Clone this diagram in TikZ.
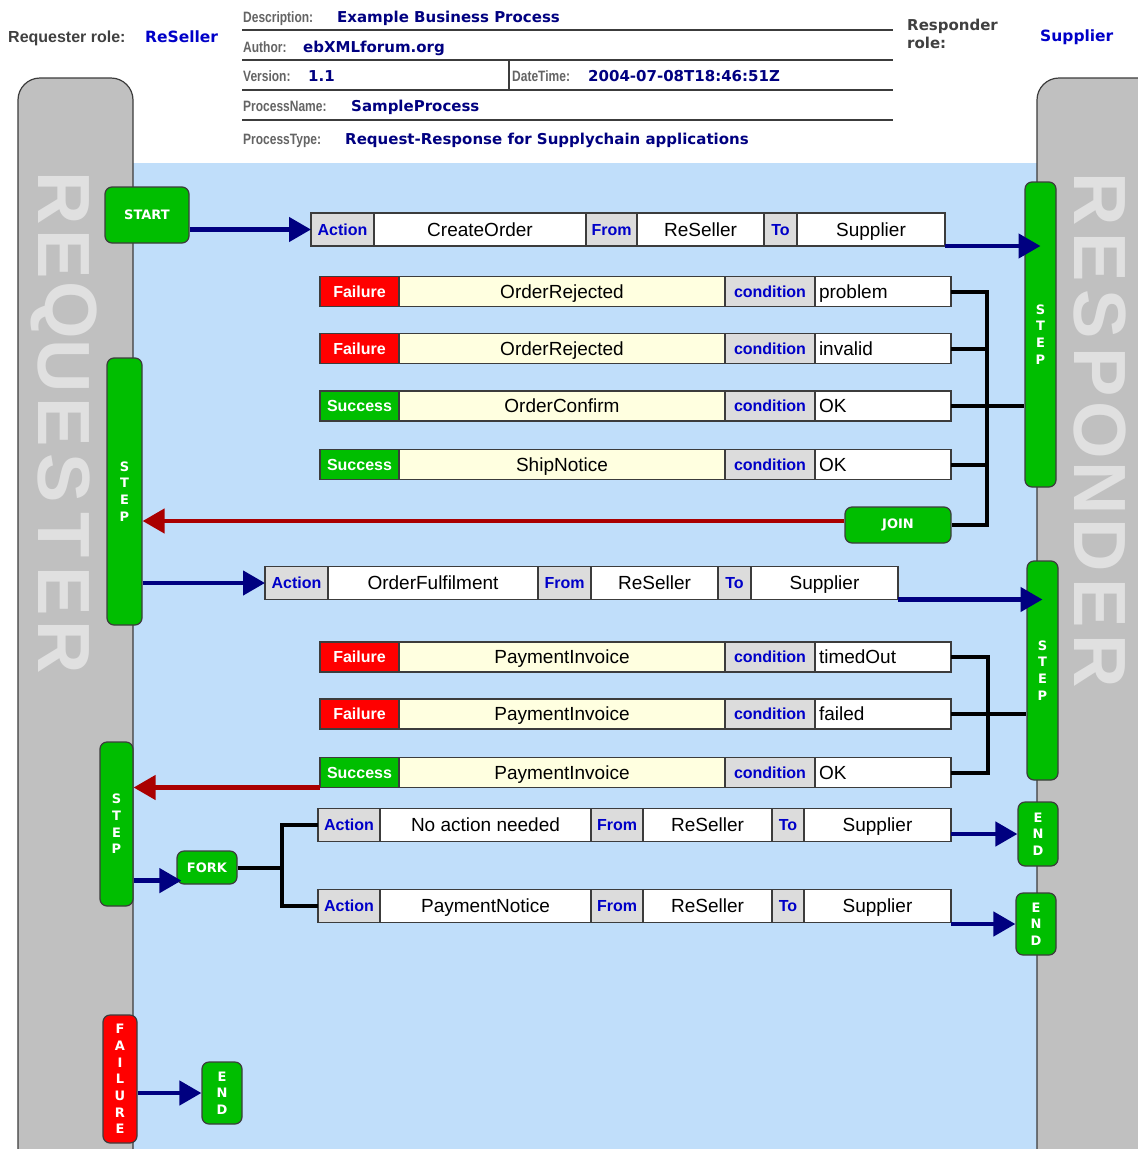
\documentclass[tikz,border=0pt]{standalone}
\usepackage{fontspec}
\setmainfont{Liberation Sans}
\newfontfamily\verdana{DejaVu Sans}
\newfontfamily\narrowface[FakeStretch=0.8]{Liberation Sans}
\usepackage{tikz}
\usetikzlibrary{arrows.meta,calc}
\usepackage{xcolor}
\definecolor{lanegray}{RGB}{192,192,192}
\definecolor{laneletter}{RGB}{224,224,224}
\definecolor{poolblue}{RGB}{192,222,250}
\definecolor{taggreen}{RGB}{0,190,0}
\definecolor{flownavy}{RGB}{0,0,128}
\definecolor{backred}{RGB}{170,0,0}
\definecolor{cellgray}{RGB}{220,220,220}
\definecolor{msgyellow}{RGB}{255,255,224}
\definecolor{keyblue}{RGB}{0,0,200}
\definecolor{edgegray}{RGB}{60,60,60}
\definecolor{hdrgray}{RGB}{100,100,100}

\begin{document}
\begin{tikzpicture}[x=1pt, y=-1pt,
    lane/.style={fill=lanegray, draw=edgegray, line width=1.2pt, rounded corners=22pt},
    lanetxt/.style={text=laneletter, font=\bfseries\fontsize{74}{74}\selectfont, rotate=-90, inner sep=0},
    cell/.style={draw=edgegray, line width=1.2pt, inner sep=0, outer sep=0, anchor=west, minimum height=33pt},
    key/.style={cell, fill=cellgray, text=keyblue, font=\fontsize{16}{16}\selectfont\bfseries, text height=15.5pt, text depth=4pt},
    val/.style={cell, fill=white, font=\fontsize{19}{19}\selectfont, text height=17.6pt, text depth=4pt},
    msg/.style={val, fill=msgyellow},
    condval/.style={val, inner xsep=4pt, text width=128pt, align=left},
    fail/.style={key, fill=red, text=white},
    succ/.style={key, fill=taggreen, text=white},
    tag/.style={draw=edgegray, line width=1.2pt, fill=taggreen, rounded corners=7pt, text=white, inner sep=0, align=center, font=\verdana\bfseries\fontsize{13}{16.7}\selectfont},
    flow/.style={-{Triangle[length=22pt,width=24pt]}, line width=4.5pt, flownavy},
    back/.style={-{Triangle[length=22pt,width=24pt]}, line width=4.5pt, backred},
    wire/.style={line width=4pt, black},
    hline/.style={line width=1.5pt, edgegray},
    hlab/.style={anchor=base west, inner sep=0, text=hdrgray, font=\narrowface\bfseries\fontsize{15}{15}\selectfont},
    hval/.style={anchor=base west, inner sep=0, text=flownavy, font=\verdana\bfseries\fontsize{15}{15}\selectfont},
    role/.style={anchor=base west, inner sep=0, text=keyblue, font=\verdana\bfseries\fontsize{15.5}{15.5}\selectfont}]
    \useasboundingbox (0,0) rectangle (1138,1149);
    \clip (0,0) rectangle (1138,1149);
    \fill[white] (0,0) rectangle (1138,1149);

    % Header
    \node[anchor=base west, inner sep=0, text=black!75, font=\bfseries\fontsize{16}{16}\selectfont] (reqlab) at (8,42) {Requester role:};
    \node[role] (reqrole) at (145,42) {ReSeller};
    \node[anchor=north west, inner sep=0, align=left, text=black!75, font=\verdana\bfseries\fontsize{15}{18}\selectfont] (reslab) at (907,19) {Responder\\role:};
    \node[role] (resrole) at (1040,41) {Supplier};
    \draw[hline] (242,30) -- (893,30);
    \draw[hline] (242,60) -- (893,60);
    \draw[hline] (242,90) -- (893,90);
    \draw[hline] (242,120) -- (893,120);
    \draw[hline] (509,60) -- (509,90);
    \node[hlab] (desclab) at (243,22.5) {Description:};
    \node[hval] (desc) at (337,22.5) {Example Business Process};
    \node[hlab] (authlab) at (243,52) {Author:};
    \node[hval] (auth) at (303,52) {ebXMLforum.org};
    \node[hlab] (verlab) at (243,81) {Version:};
    \node[hval] (ver) at (308,81) {1.1};
    \node[hlab] (timelab) at (512,81) {DateTime:};
    \node[hval] (time) at (588,81) {2004-07-08T18:46:51Z};
    \node[hlab] (namelab) at (243,111) {ProcessName:};
    \node[hval] (name) at (351,111) {SampleProcess};
    \node[hlab] (typelab) at (243,144) {ProcessType:};
    \node[hval] (type) at (345,144) {Request-Response for Supplychain applications};

    % Pool and lanes
    \fill[poolblue] (133,163) rectangle (1037,1160);
    \draw[lane] (18,1170) -- (18,78) -- (133,78) -- (133,1170);
    \draw[lane] (1037,1170) -- (1037,78) -- (1170,78) -- (1170,1170);
    \foreach \c [count=\i] in {R,E,Q,U,E,S,T,E,R}
        \node[lanetxt] (ql\i) at (64,{170+56.1*(\i-0.5)}) {\c};
    \foreach \c [count=\i] in {R,E,S,P,O,N,D,E,R}
        \node[lanetxt] (rl\i) at (1100,{170+57.8*(\i-0.5)}) {\c};

    % Tags
    \node[tag, minimum width=84pt, minimum height=56pt] (start) at (147,215) {START};
    \node[tag, minimum width=31pt, minimum height=305pt] (rstep1) at (1040.5,334.5) {S\\T\\E\\P};
    \node[tag, minimum width=106pt, minimum height=36pt] (join) at (898,525) {JOIN};
    \node[tag, minimum width=35pt, minimum height=267pt] (lstep1) at (124.5,491.5) {S\\T\\E\\P};
    \node[tag, minimum width=31pt, minimum height=219pt] (rstep2) at (1042.5,670.5) {S\\T\\E\\P};
    \node[tag, minimum width=33pt, minimum height=164pt] (lstep2) at (116.5,824) {S\\T\\E\\P};
    \node[tag, minimum width=60pt, minimum height=33pt] (fork) at (207,867.5) {FORK};
    \node[tag, minimum width=40pt, minimum height=64pt] (end1) at (1038,834) {E\\N\\D};
    \node[tag, minimum width=40pt, minimum height=62pt] (end2) at (1036,924) {E\\N\\D};
    \node[tag, fill=red, minimum width=34pt, minimum height=128pt] (failure) at (120,1079) {F\\A\\I\\L\\U\\R\\E};
    \node[tag, minimum width=40pt, minimum height=62pt] (end3) at (222,1093) {E\\N\\D};

    % Actions
    \node[key, minimum width=63pt] (a1k) at (311,229.5) {Action};
    \node[val, minimum width=212pt] (a1m) at (a1k.east) {CreateOrder};
    \node[key, minimum width=51pt] (a1f) at (a1m.east) {From};
    \node[val, minimum width=127pt] (a1s) at (a1f.east) {ReSeller};
    \node[key, minimum width=33pt] (a1t) at (a1s.east) {To};
    \node[val, minimum width=148pt] (a1r) at (a1t.east) {Supplier};

    \node[key, minimum width=63pt] (a2k) at (265,583) {Action};
    \node[val, minimum width=210pt] (a2m) at (a2k.east) {OrderFulfilment};
    \node[key, minimum width=53pt] (a2f) at (a2m.east) {From};
    \node[val, minimum width=127pt] (a2s) at (a2f.east) {ReSeller};
    \node[key, minimum width=33pt] (a2t) at (a2s.east) {To};
    \node[val, minimum width=147pt] (a2r) at (a2t.east) {Supplier};

    \node[key, minimum width=62pt] (a3k) at (318,825) {Action};
    \node[val, minimum width=211pt] (a3m) at (a3k.east) {No action needed};
    \node[key, minimum width=52pt] (a3f) at (a3m.east) {From};
    \node[val, minimum width=129pt] (a3s) at (a3f.east) {ReSeller};
    \node[key, minimum width=32pt] (a3t) at (a3s.east) {To};
    \node[val, minimum width=147pt] (a3r) at (a3t.east) {Supplier};

    \node[key, minimum width=62pt] (a4k) at (318,906) {Action};
    \node[val, minimum width=211pt] (a4m) at (a4k.east) {PaymentNotice};
    \node[key, minimum width=52pt] (a4f) at (a4m.east) {From};
    \node[val, minimum width=129pt] (a4s) at (a4f.east) {ReSeller};
    \node[key, minimum width=32pt] (a4t) at (a4s.east) {To};
    \node[val, minimum width=147pt] (a4r) at (a4t.east) {Supplier};

    % Responses
    \foreach \n/\y/\kind/\txt/\doc/\cond in {
        1/291.5/fail/Failure/OrderRejected/problem,
        2/348.5/fail/Failure/OrderRejected/invalid,
        3/406/succ/Success/OrderConfirm/OK,
        4/464.5/succ/Success/ShipNotice/OK,
        5/657/fail/Failure/PaymentInvoice/timedOut,
        6/714/fail/Failure/PaymentInvoice/failed,
        7/772.5/succ/Success/PaymentInvoice/OK} {
        \node[\kind, minimum width=79pt, minimum height=30pt] (ck\n) at (320,\y) {\txt};
        \node[msg, minimum width=326pt, minimum height=30pt] (cm\n) at (ck\n.east) {\doc};
        \node[key, minimum width=90pt, minimum height=30pt] (cc\n) at (cm\n.east) {condition};
        \node[condval, minimum height=30pt] (cv\n) at (cc\n.east) {\cond};
    }

    % Connectors
    \coordinate (bus1) at (987,0);
    \coordinate (bus2) at (988,0);
    \coordinate (fbus) at (282,0);
    \coordinate (forkin) at ([xshift=5pt,yshift=4pt]fork.south west);
    \coordinate (joinout) at ([yshift=4pt]join.west);
    \draw[flow] (start.east |- a1k.west) -- (a1k.west);
    \draw[flow] (a1r.south east) -- (rstep1 |- a1r.south east);
    \draw[wire] (cv1.east) -| (bus1 |- join.east) -- (join.east);
    \draw[wire] (cv2.east) -- (bus1 |- cv2.east);
    \draw[wire] (cv3.east) -- (rstep1.west |- cv3.east);
    \draw[wire] (cv4.east) -- (bus1 |- cv4.east);
    \draw[back] (joinout) -- (lstep1.east |- joinout);
    \draw[flow] (lstep1.east |- a2k.west) -- (a2k.west);
    \draw[flow] (a2r.south east) -- (rstep2 |- a2r.south east);
    \draw[wire] (cv5.east) -| (bus2 |- cv7.east) -- (cv7.east);
    \draw[wire] (cv6.east) -- (rstep2.west |- cv6.east);
    \draw[back] (ck7.south west) -- (lstep2.east |- ck7.south west);
    \draw[flow] (lstep2.east |- forkin) -- (forkin);
    \draw[wire] (a3k.west) -| (fbus |- fork.east) |- (a4k.west);
    \draw[wire] (fork.east) -- (fbus |- fork.east);
    \draw[flow] (a3r.east |- end1) -- (end1.west);
    \draw[flow] (a4r.east |- end2) -- (end2.west);
    \draw[flow] (failure.east |- end3) -- (end3.west);
\end{tikzpicture}
\end{document}
